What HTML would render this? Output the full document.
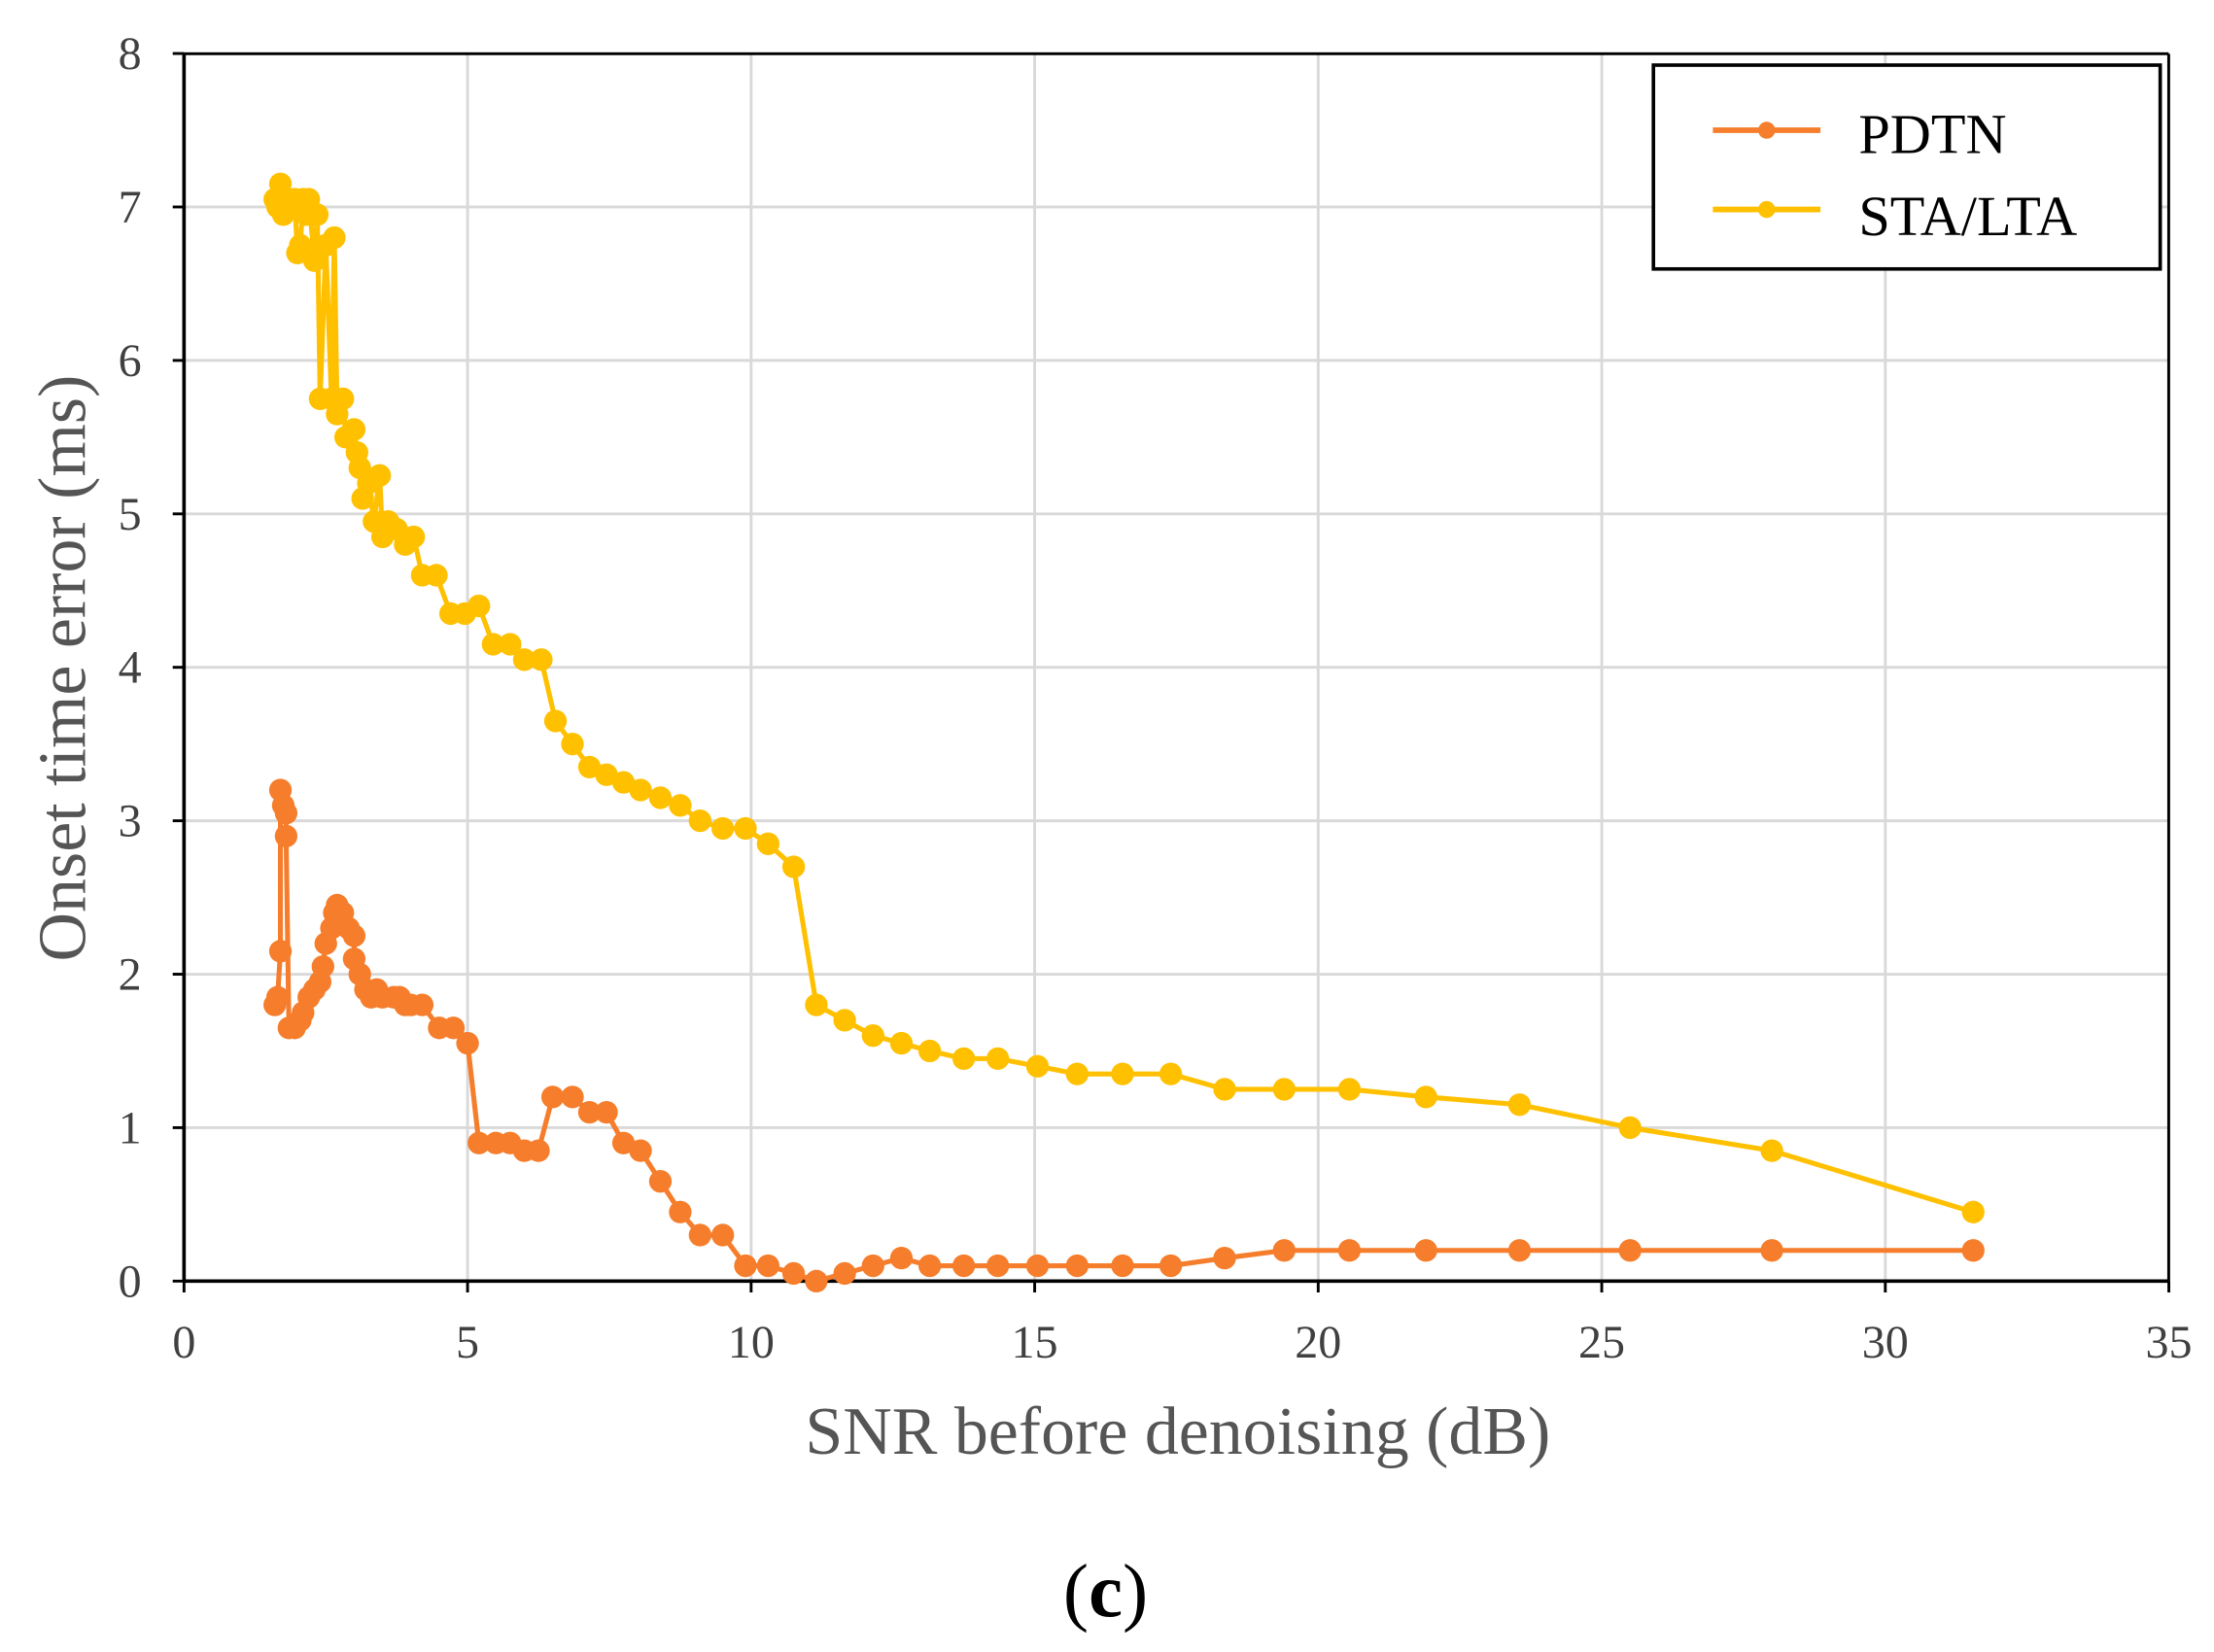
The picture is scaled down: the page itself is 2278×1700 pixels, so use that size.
<!DOCTYPE html>
<html><head><meta charset="utf-8"><style>
html,body{margin:0;padding:0;background:#fff;}
svg{display:block;}
text{font-family:"Liberation Serif",serif;}
</style></head><body>
<svg id="s" width="2278" height="1700" viewBox="0 0 1564 1167" preserveAspectRatio="none" xmlns="http://www.w3.org/2000/svg">
<g id="grid" stroke="#d9d9d9" stroke-width="2"></g>
<g id="ticks" font-size="33" fill="#404040"></g>
<line x1="130" y1="38" x2="130" y2="905" stroke="#000" stroke-width="2.5"/>
<line x1="130" y1="905" x2="1532" y2="905" stroke="#000" stroke-width="2.5"/>
<line x1="130" y1="38" x2="1532" y2="38" stroke="#000" stroke-width="2"/>
<line x1="1532" y1="38" x2="1532" y2="905" stroke="#000" stroke-width="2"/>
<g id="series"></g>
<rect x="1168" y="46" width="358" height="144" fill="#fff" stroke="#000" stroke-width="2.5"/>
<line x1="1210" y1="92" x2="1286" y2="92" stroke="#F57D2B" stroke-width="4"/>
<circle cx="1248" cy="92" r="6" fill="#F57D2B"/>
<line x1="1210" y1="148" x2="1286" y2="148" stroke="#FFC000" stroke-width="4"/>
<circle cx="1248" cy="148" r="6" fill="#FFC000"/>
<text x="1313" y="108" font-size="40" fill="#000">PDTN</text>
<text x="1313" y="166" font-size="40" fill="#000">STA/LTA</text>
<text x="832" y="1027" font-size="48" fill="#555" text-anchor="middle">SNR before denoising (dB)</text>
<text transform="translate(60,472) rotate(-90)" font-size="48" fill="#555" text-anchor="middle">Onset time error (ms)</text>
<text x="781" y="1142" font-size="54" fill="#000" text-anchor="middle">(<tspan font-weight="bold">c</tspan>)</text>
</svg>
<script>
var NS="http://www.w3.org/2000/svg";
function X(v){return 130+v*40.06;}
function Y(v){return 905-v*108.4;}
var g=document.getElementById('grid'),t=document.getElementById('ticks');
function el(p,n,a,txt){var e=document.createElementNS(NS,n);for(var k in a)e.setAttribute(k,a[k]);if(txt!==undefined)e.textContent=txt;p.appendChild(e);return e;}
for(var i=1;i<=7;i++){el(g,'line',{x1:X(i*5),x2:X(i*5),y1:38,y2:905});}
for(var i=1;i<=8;i++){el(g,'line',{x1:130,x2:1532,y1:Y(i),y2:Y(i)});}
for(var i=0;i<=7;i++){el(t,'text',{x:X(i*5),y:959,'text-anchor':'middle'},String(i*5));el(t,'line',{x1:X(i*5),x2:X(i*5),y1:905,y2:913,stroke:'#000','stroke-width':2});}
for(var i=0;i<=8;i++){el(t,'text',{x:100,y:Y(i)+11,'text-anchor':'end'},String(i));el(t,'line',{x1:122,x2:130,y1:Y(i),y2:Y(i),stroke:'#000','stroke-width':2});}
var P=[[1.6,1.8],[1.65,1.85],[1.7,2.15],[1.7,3.2],[1.75,3.1],[1.8,3.05],[1.8,2.9],[1.85,1.65],[1.95,1.65],[2.05,1.7],[2.1,1.75],[2.2,1.85],[2.3,1.9],[2.4,1.95],[2.45,2.05],[2.5,2.2],[2.6,2.3],[2.65,2.4],[2.7,2.45],[2.8,2.4],[2.9,2.3],[3.0,2.25],[3.0,2.1],[3.1,2.0],[3.2,1.9],[3.3,1.85],[3.4,1.9],[3.5,1.85],[3.7,1.85],[3.8,1.85],[3.9,1.8],[4.0,1.8],[4.2,1.8],[4.5,1.65],[4.75,1.65],[5.0,1.55],[5.2,0.9],[5.5,0.9],[5.75,0.9],[6.0,0.85],[6.25,0.85],[6.5,1.2],[6.85,1.2],[7.15,1.1],[7.45,1.1],[7.75,0.9],[8.05,0.85],[8.4,0.65],[8.75,0.45],[9.1,0.3],[9.5,0.3],[9.9,0.1],[10.3,0.1],[10.75,0.05],[11.15,0],[11.65,0.05],[12.15,0.1],[12.65,0.15],[13.15,0.1],[13.75,0.1],[14.35,0.1],[15.05,0.1],[15.75,0.1],[16.55,0.1],[17.4,0.1],[18.35,0.15],[19.4,0.2],[20.55,0.2],[21.9,0.2],[23.55,0.2],[25.5,0.2],[28,0.2],[31.55,0.2]];
var S=[[1.6,7.05],[1.65,7.0],[1.7,7.15],[1.75,6.95],[1.85,7.0],[1.95,7.05],[2.0,6.7],[2.05,6.75],[2.1,7.05],[2.15,6.95],[2.2,7.05],[2.3,6.65],[2.35,6.95],[2.4,5.75],[2.5,6.75],[2.6,5.75],[2.65,6.8],[2.7,5.65],[2.8,5.75],[2.85,5.5],[3.0,5.55],[3.05,5.4],[3.1,5.3],[3.15,5.1],[3.25,5.2],[3.35,4.95],[3.45,5.25],[3.5,4.85],[3.6,4.95],[3.75,4.9],[3.9,4.8],[4.05,4.85],[4.2,4.6],[4.45,4.6],[4.7,4.35],[4.95,4.35],[5.2,4.4],[5.45,4.15],[5.75,4.15],[6.0,4.05],[6.3,4.05],[6.55,3.65],[6.85,3.5],[7.15,3.35],[7.45,3.3],[7.75,3.25],[8.05,3.2],[8.4,3.15],[8.75,3.1],[9.1,3.0],[9.5,2.95],[9.9,2.95],[10.3,2.85],[10.75,2.7],[11.15,1.8],[11.65,1.7],[12.15,1.6],[12.65,1.55],[13.15,1.5],[13.75,1.45],[14.35,1.45],[15.05,1.4],[15.75,1.35],[16.55,1.35],[17.4,1.35],[18.35,1.25],[19.4,1.25],[20.55,1.25],[21.9,1.2],[23.55,1.15],[25.5,1.0],[28,0.85],[31.55,0.45]];
var sg=document.getElementById('series');
function draw(d,c){var pts=d.map(function(p){return X(p[0])+','+Y(p[1]);}).join(' ');
el(sg,'polyline',{points:pts,fill:'none',stroke:c,'stroke-width':3.5,'stroke-linejoin':'round'});
d.forEach(function(p){el(sg,'circle',{cx:X(p[0]),cy:Y(p[1]),r:8,fill:c});});}
draw(S,'#FFC000');draw(P,'#F57D2B');
</script>
</body></html>
